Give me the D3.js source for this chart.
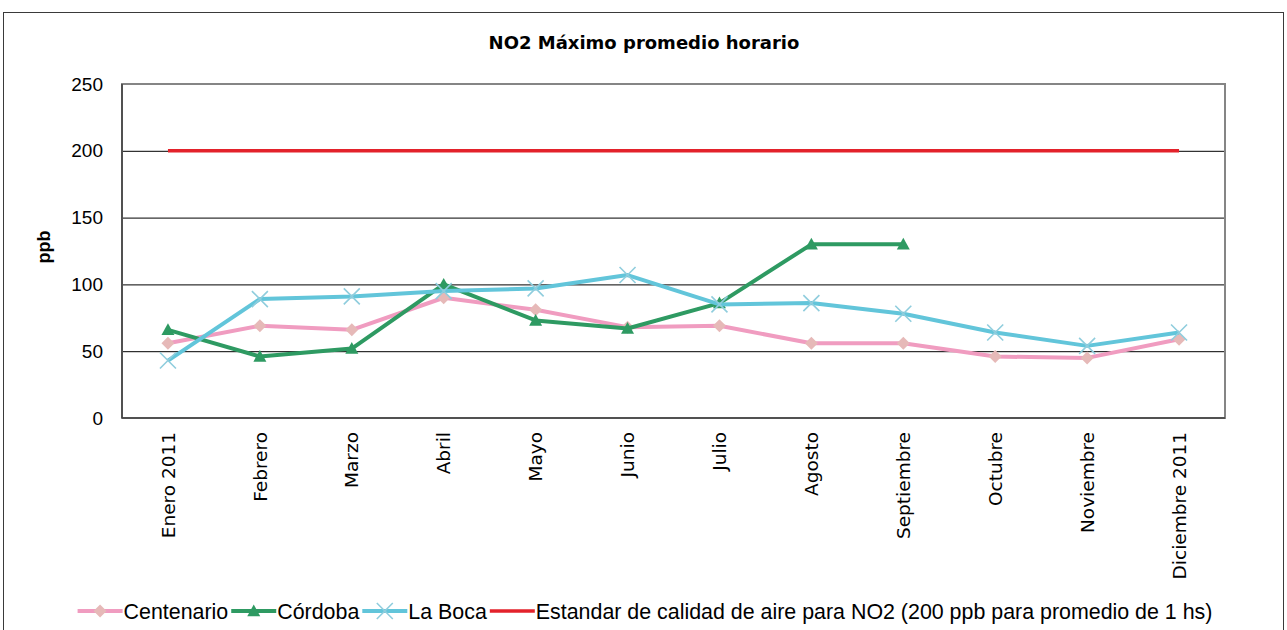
<!DOCTYPE html>
<html>
<head>
<meta charset="utf-8">
<script src="https://cdn.jsdelivr.net/npm/d3@7"></script>
<style>
  html, body { margin: 0; padding: 0; background: #fff; }
  svg { display: block; }
</style>
</head>
<body>
<svg id="chart" width="1287" height="630"></svg>
<script>
// ---- DATA ----
const categories = ["Enero 2011","Febrero","Marzo","Abril","Mayo","Junio","Julio","Agosto","Septiembre","Octubre","Noviembre","Diciembre 2011"];
const centenario = [56, 69, 66, 90, 81, 68, 69, 56, 56, 46, 45, 59];
const cordoba    = [66, 46, 52, 100, 73, 67, 86, 130, 130, null, null, null];
const laBoca     = [43, 89, 91, 95, 97, 107, 85, 86, 78, 64, 54, 64];
const estandar   = [200, 200, 200, 200, 200, 200, 200, 200, 200, 200, 200, 200];
const seriesNames = ["Centenario", "Córdoba", "La Boca", "Estandar de calidad de aire para NO2 (200 ppb para promedio de 1 hs)"];
const yTicks = [0, 50, 100, 150, 200, 250];
const gridTicks = [50, 100, 150, 200];
const titleText = "NO2 Máximo promedio horario";
const yTitle = "ppb";

// ---- STYLE ----
const W = 1287, H = 630;
const plot = { left: 122, right: 1225, top: 84, bottom: 418 };
const styles = [
  { line: "#F09CC0", marker: "diamond", mfill: "#E6B9B8", width: 4 },
  { line: "#2E9A62", marker: "triangle", mfill: "#2E9A62", width: 4 },
  { line: "#62C5DA", marker: "x", mfill: "#8FCDDD", width: 4 },
  { line: "#E3222B", marker: "none", mfill: "none", width: 3.5 }
];
const seriesData = [centenario, cordoba, laBoca, estandar];

const svg = d3.select("#chart");

// outer chart border
svg.append("rect")
  .attr("x", 3.5).attr("y", 12.5)
  .attr("width", 1280).attr("height", 640)
  .attr("fill", "none").attr("stroke", "#3a3a3a").attr("stroke-width", 1);

const x = d3.scaleBand().domain(categories).range([plot.left, plot.right]);
const cx = c => x(c) + x.bandwidth() / 2;
const y = d3.scaleLinear().domain([0, 250]).range([plot.bottom, plot.top]);

// title
svg.append("text")
  .attr("x", 644).attr("y", 49)
  .attr("text-anchor", "middle")
  .style("font-family", "'DejaVu Sans', sans-serif")
  .style("font-weight", "bold")
  .style("font-size", "18px")
  .text(titleText);

// gridlines
const grid = svg.append("g")
  .attr("transform", `translate(${plot.left},0)`)
  .call(d3.axisLeft(y).tickValues(gridTicks).tickSize(-(plot.right - plot.left)).tickFormat(""));
grid.select(".domain").remove();
grid.selectAll(".tick line").attr("stroke", "#000").attr("stroke-width", 1);

// plot frame
svg.append("rect")
  .attr("x", plot.left).attr("y", plot.top)
  .attr("width", plot.right - plot.left).attr("height", plot.bottom - plot.top)
  .attr("fill", "none").attr("stroke", "#858585").attr("stroke-width", 2);
svg.append("line")
  .attr("x1", plot.left).attr("x2", plot.left)
  .attr("y1", plot.top).attr("y2", plot.bottom)
  .attr("stroke", "#404040").attr("stroke-width", 1.5);
svg.append("line")
  .attr("x1", plot.left).attr("x2", plot.right)
  .attr("y1", plot.bottom).attr("y2", plot.bottom)
  .attr("stroke", "#404040").attr("stroke-width", 1.5);

// y axis labels
const yAxis = svg.append("g")
  .attr("transform", `translate(${plot.left},0)`)
  .call(d3.axisLeft(y).tickValues(yTicks).tickSize(0).tickPadding(19));
yAxis.select(".domain").remove();
yAxis.selectAll("text")
  .style("font-family", "'Liberation Sans', Arial, sans-serif")
  .style("font-size", "19px")
  .attr("fill", "#000");

// y title
svg.append("text")
  .attr("transform", `translate(50,${(plot.top + plot.bottom) / 2 - 4}) rotate(-90)`)
  .attr("text-anchor", "middle")
  .style("font-family", "'Liberation Sans', Arial, sans-serif")
  .style("font-weight", "bold")
  .style("font-size", "18px")
  .text(yTitle);

// x axis labels
const xAxis = svg.append("g")
  .attr("transform", `translate(0,${plot.bottom})`)
  .call(d3.axisBottom(x).tickSize(0));
xAxis.select(".domain").remove();
xAxis.selectAll("text")
  .attr("transform", "rotate(-90)")
  .attr("x", -14).attr("y", 0).attr("dy", "0.36em")
  .attr("text-anchor", "end")
  .style("font-family", "'DejaVu Sans', sans-serif")
  .style("font-size", "18.5px")
  .attr("fill", "#000");

// marker drawing
function markerPath(type, size) {
  const s = size / 2;
  if (type === "diamond") return `M0,${-s}L${s},0L0,${s}L${-s},0Z`;
  if (type === "triangle") return `M0,${-s}L${s},${s * 0.8}L${-s},${s * 0.8}Z`;
  if (type === "x") return `M${-s},${-s}L${s},${s}M${-s},${s}L${s},${-s}`;
  return "";
}
function drawMarker(g, type, st, px, py) {
  if (type === "none") return;
  const sz = type === "x" ? 16 : 13;
  const p = g.append("path")
    .attr("d", markerPath(type, sz))
    .attr("transform", `translate(${px},${py})`);
  if (type === "x") p.attr("fill", "none").attr("stroke", st.mfill).attr("stroke-width", 1.6);
  else p.attr("fill", st.mfill).attr("stroke", "none");
}

// series
seriesData.forEach((vals, i) => {
  const st = styles[i];
  const pts = categories.map((c, j) => ({ c, v: vals[j] }));
  const lineGen = d3.line()
    .defined(d => d.v !== null)
    .x(d => cx(d.c))
    .y(d => y(d.v));
  const g = svg.append("g");
  g.append("path")
    .datum(pts)
    .attr("d", lineGen)
    .attr("fill", "none")
    .attr("stroke", st.line)
    .attr("stroke-width", st.width)
    .attr("stroke-linejoin", "round");
  pts.filter(d => d.v !== null).forEach(d => drawMarker(g, st.marker, st, cx(d.c), y(d.v)));
});

// legend
const legend = svg.append("g");
const lineLen = 45;
const items = [];
seriesNames.forEach((name, i) => {
  const g = legend.append("g");
  const t = g.append("text")
    .attr("x", lineLen + 1)
    .attr("y", 0)
    .attr("dy", "0.35em")
    .style("font-family", "'Liberation Sans', Arial, sans-serif")
    .style("font-size", "21.4px")
    .text(name);
  g.append("line")
    .attr("x1", 0).attr("x2", lineLen)
    .attr("y1", 0).attr("y2", 0)
    .attr("stroke", styles[i].line)
    .attr("stroke-width", styles[i].width);
  drawMarker(g, styles[i].marker, styles[i], lineLen / 2, 0);
  const w = lineLen + 1 + t.node().getComputedTextLength();
  items.push({ g, w });
});
const gap = 3;
const totalW = d3.sum(items, d => d.w) + gap * (items.length - 1);
let startX = 645 - totalW / 2;
items.forEach(it => {
  it.g.attr("transform", `translate(${startX},611)`);
  startX += it.w + gap;
});
</script>
</body>
</html>
